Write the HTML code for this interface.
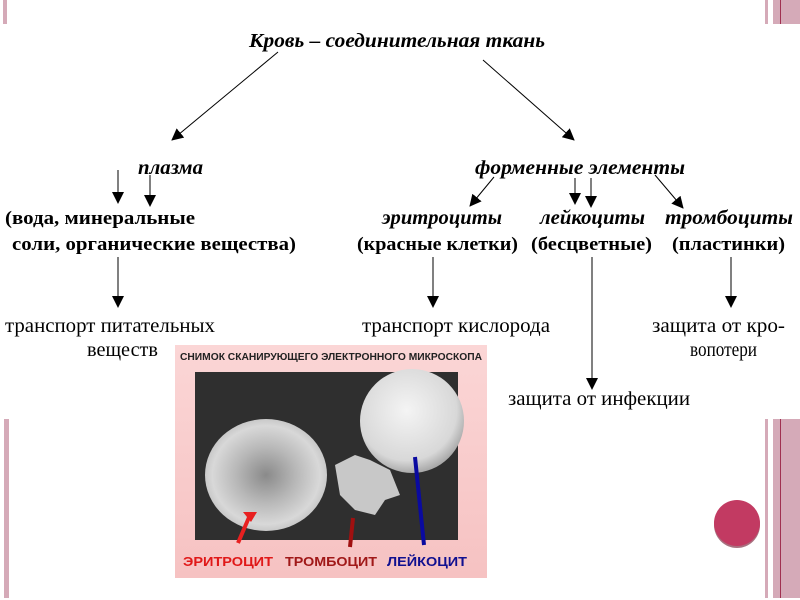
<!DOCTYPE html>
<html><head><meta charset="utf-8"><style>
html,body{margin:0;padding:0;background:#fff;width:800px;height:600px;overflow:hidden}
svg{display:block}
.h{font-family:"Liberation Serif","DejaVu Serif",serif;font-style:italic;font-weight:bold;font-size:20px;fill:#000}
.b{font-family:"Liberation Serif","DejaVu Serif",serif;font-weight:bold;font-size:19px;fill:#000}
.t{font-family:"Liberation Serif","DejaVu Serif",serif;font-size:20px;fill:#000}
.s{font-family:"Liberation Sans","DejaVu Sans",sans-serif;font-weight:bold}
</style></head><body>
<svg width="800" height="600" viewBox="0 0 800 600" xmlns="http://www.w3.org/2000/svg">
<defs>
<marker id="a" markerWidth="12" markerHeight="12" refX="11" refY="6" orient="auto" markerUnits="userSpaceOnUse"><path d="M0,0 L12,6 L0,12 z" fill="#000"/></marker>
<radialGradient id="wb" cx="45%" cy="40%" r="60%"><stop offset="0" stop-color="#f4f4f4"/><stop offset="0.8" stop-color="#d8d8d8"/><stop offset="1" stop-color="#aaa"/></radialGradient>
<radialGradient id="rb" cx="50%" cy="50%" r="55%"><stop offset="0" stop-color="#8a8a8a"/><stop offset="0.45" stop-color="#b8b8b8"/><stop offset="0.8" stop-color="#d8d8d8"/><stop offset="1" stop-color="#bbb"/></radialGradient>
<linearGradient id="pk" x1="0" y1="0" x2="0" y2="1"><stop offset="0" stop-color="#fbd6d6"/><stop offset="1" stop-color="#f6c2c2"/></linearGradient>
</defs>
<rect x="3" y="0" width="4" height="24" fill="#d5aab8"/>
<rect x="765" y="0" width="3" height="24" fill="#d5aab8"/>
<rect x="773" y="0" width="27" height="24" fill="#d5aab8"/>
<rect x="780" y="0" width="1" height="24" fill="#a03050"/>
<rect x="4" y="419" width="5" height="179" fill="#d5aab8"/>
<rect x="765" y="419" width="3" height="179" fill="#d5aab8"/>
<rect x="773" y="419" width="27" height="179" fill="#d5aab8"/>
<rect x="780" y="419" width="1" height="179" fill="#a03050"/>
<circle cx="737" cy="525" r="23" fill="#a8707f"/>
<circle cx="737" cy="523" r="23" fill="#c23a62"/>

<text class="h" x="249" y="47" textLength="296" lengthAdjust="spacingAndGlyphs">Кровь – соединительная ткань</text>
<text class="h" x="138" y="174" textLength="65" lengthAdjust="spacingAndGlyphs">плазма</text>
<text class="h" x="475" y="174" textLength="210" lengthAdjust="spacingAndGlyphs">форменные элементы</text>
<text class="h" x="382" y="224" textLength="120" lengthAdjust="spacingAndGlyphs">эритроциты</text>
<text class="h" x="540" y="224" textLength="105" lengthAdjust="spacingAndGlyphs">лейкоциты</text>
<text class="h" x="665" y="224" textLength="128" lengthAdjust="spacingAndGlyphs">тромбоциты</text>

<text class="b" x="5" y="224" textLength="190" lengthAdjust="spacingAndGlyphs">(вода, минеральные</text>
<text class="b" x="12" y="250" textLength="284" lengthAdjust="spacingAndGlyphs">соли, органические вещества)</text>
<text class="b" x="357" y="250" textLength="161" lengthAdjust="spacingAndGlyphs">(красные клетки)</text>
<text class="b" x="531" y="250" textLength="121" lengthAdjust="spacingAndGlyphs">(бесцветные)</text>
<text class="b" x="672" y="250" textLength="113" lengthAdjust="spacingAndGlyphs">(пластинки)</text>

<text class="t" x="5" y="332" textLength="210" lengthAdjust="spacingAndGlyphs">транспорт питательных</text>
<text class="t" x="87" y="356" textLength="71" lengthAdjust="spacingAndGlyphs">веществ</text>
<text class="t" x="362" y="332" textLength="188" lengthAdjust="spacingAndGlyphs">транспорт кислорода</text>
<text class="t" x="652" y="332" textLength="133" lengthAdjust="spacingAndGlyphs">защита от кро-</text>
<text class="t" x="690" y="356" textLength="67" lengthAdjust="spacingAndGlyphs">вопотери</text>
<text class="t" x="508" y="405" textLength="182" lengthAdjust="spacingAndGlyphs">защита от инфекции</text>

<g stroke="#000" stroke-width="1" fill="none" marker-end="url(#a)">
<line x1="278" y1="52" x2="172" y2="140"/>
<line x1="483" y1="60" x2="574" y2="140"/>
<line x1="118" y1="170" x2="118" y2="203"/>
<line x1="150" y1="175" x2="150" y2="206"/>
<line x1="494" y1="177" x2="470" y2="206"/>
<line x1="575" y1="178" x2="575" y2="204"/>
<line x1="591" y1="178" x2="591" y2="207"/>
<line x1="655" y1="175" x2="683" y2="208"/>
<line x1="118" y1="257" x2="118" y2="307"/>
<line x1="433" y1="257" x2="433" y2="307"/>
<line x1="731" y1="257" x2="731" y2="307"/>
<line x1="592" y1="257" x2="592" y2="389"/>
</g>

<rect x="175" y="345" width="312" height="233" fill="url(#pk)"/>
<text class="s" x="180" y="360" font-size="10" textLength="302" lengthAdjust="spacingAndGlyphs" fill="#222">СНИМОК СКАНИРУЮЩЕГО ЭЛЕКТРОННОГО МИКРОСКОПА</text>
<rect x="195" y="372" width="263" height="168" fill="#2f2f2f"/>
<circle cx="412" cy="421" r="52" fill="url(#wb)"/>
<path d="M335,465 l20,-10 l15,5 l20,10 l10,25 l-15,5 l-10,15 l-20,-5 l-15,-15 z" fill="#c8c8c8"/>
<ellipse cx="266" cy="475" rx="61" ry="56" fill="url(#rb)"/>
<g stroke-width="4" fill="none">
<line x1="238" y1="543" x2="250" y2="515" stroke="#e82020"/>
<line x1="350" y1="547" x2="353" y2="518" stroke="#a01010"/>
<line x1="424" y1="545" x2="415" y2="457" stroke="#0a0aa0"/>
</g>
<path d="M243,512 l14,0 l-6,10 z" fill="#e82020"/>
<text class="s" x="183" y="566" font-size="13" fill="#e01818" textLength="90" lengthAdjust="spacingAndGlyphs">ЭРИТРОЦИТ</text>
<text class="s" x="285" y="566" font-size="13" fill="#a01818" textLength="92" lengthAdjust="spacingAndGlyphs">ТРОМБОЦИТ</text>
<text class="s" x="387" y="566" font-size="13" fill="#101090" textLength="80" lengthAdjust="spacingAndGlyphs">ЛЕЙКОЦИТ</text>
</svg>
</body></html>
